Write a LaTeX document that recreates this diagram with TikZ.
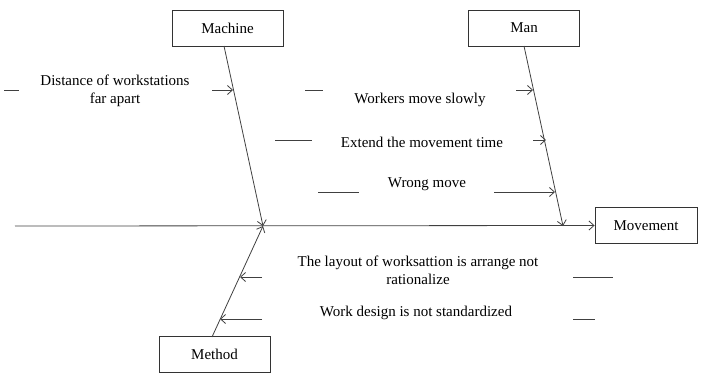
\documentclass[tikz,border=0pt]{standalone}
\usepackage{fontspec}
\setmainfont{Liberation Serif}
\usetikzlibrary{arrows.meta}
\begin{document}
\begin{tikzpicture}[x=1pt,y=-1pt,
  box/.style={draw=black!80, line width=0.9pt, minimum width=111pt, minimum height=36pt, inner sep=0pt, font=\fontsize{15}{18}\selectfont},
  lbl/.style={align=center, font=\fontsize{15}{18}\selectfont, inner sep=0pt},
  bone/.style={draw=black!75, line width=0.8pt},
  tip/.style={bone, -{Straight Barb[length=5pt,width=9pt]}},
  dashln/.style={draw=black!75, line width=0.8pt}]
\useasboundingbox (0,0) rectangle (701,373);
% boxes
\node[box] (machine) at (227.5,28) {Machine};
\node[box] (man) at (524,28) {Man};
\node[box, minimum width=102pt] (movement) at (646,225.5) {Movement};
\node[box] (method) at (214.5,354.5) {Method};
% spine
\coordinate (tail) at (15,226);
\coordinate (mj) at (263,226);
\coordinate (nj) at (563,226);
\draw[tip] (tail) -- (movement.west);
% main bones
\coordinate (mtop) at (224,46);
\coordinate (ntop) at (524,46);
\coordinate (dbot) at (212,337);
\draw[tip] (mtop) -- (mj);
\draw[tip] (ntop) -- (nj);
\draw[tip] (dbot) -- (mj);
% machine cause
\coordinate (a1s) at (212,90); \coordinate (a1e) at (233,90);
\draw[tip] (a1s) -- (a1e);
\coordinate (d1a) at (4,90); \coordinate (d1b) at (19,90);
\draw[dashln] (d1a) -- (d1b);
\node[lbl] (t1) at (115,91) {Distance of workstations\\far apart};
% man causes
\coordinate (d2a) at (305,90); \coordinate (d2b) at (323,90);
\draw[dashln] (d2a) -- (d2b);
\coordinate (a2s) at (516,90); \coordinate (a2e) at (533,90);
\draw[tip] (a2s) -- (a2e);
\node[lbl] (t2) at (420,100) {Workers move slowly};
\coordinate (d3a) at (275,140); \coordinate (d3b) at (312,140);
\draw[dashln] (d3a) -- (d3b);
\coordinate (a3s) at (533,140); \coordinate (a3e) at (546,140);
\draw[tip] (a3s) -- (a3e);
\node[lbl] (t3) at (422,142) {Extend the movement time};
\coordinate (d4a) at (318,192); \coordinate (d4b) at (359,192);
\draw[dashln] (d4a) -- (d4b);
\coordinate (a4s) at (494,192); \coordinate (a4e) at (555,192);
\draw[tip] (a4s) -- (a4e);
\node[lbl] (t4) at (427,184) {Wrong move};
% method causes
\coordinate (a5s) at (262,277); \coordinate (a5e) at (240,277);
\draw[tip] (a5s) -- (a5e);
\coordinate (d5a) at (573,277); \coordinate (d5b) at (613,277);
\draw[dashln] (d5a) -- (d5b);
\node[lbl] (t5) at (418,270) {The layout of worksattion is arrange not\\rationalize};
\coordinate (a6s) at (262,319); \coordinate (a6e) at (220,319);
\draw[tip] (a6s) -- (a6e);
\coordinate (d6a) at (573,319); \coordinate (d6b) at (595,319);
\draw[dashln] (d6a) -- (d6b);
\node[lbl] (t6) at (416,313) {Work design is not standardized};
\end{tikzpicture}
\end{document}
